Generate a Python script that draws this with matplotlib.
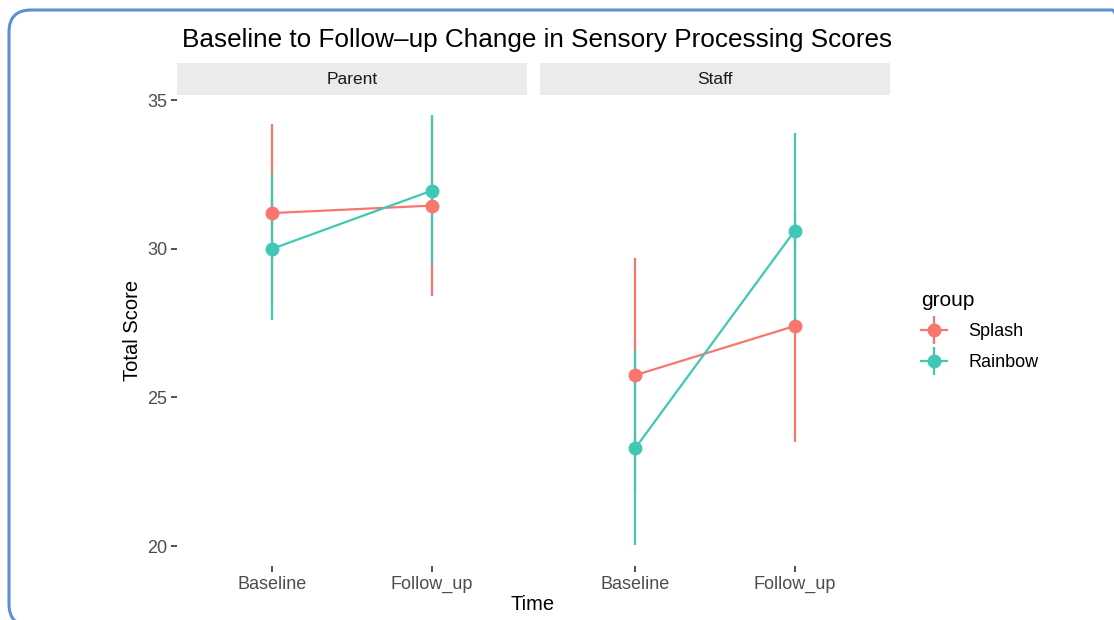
import matplotlib
matplotlib.use("Agg")
import matplotlib.pyplot as plt
from matplotlib.lines import Line2D
from matplotlib.patches import FancyBboxPatch
from matplotlib.transforms import IdentityTransform
from matplotlib.legend_handler import HandlerTuple

plt.rcParams['font.family'] = ['Liberation Sans', 'DejaVu Sans']

W, H = 1114, 620

times = ["Baseline", "Follow_up"]
panels = ["Parent", "Staff"]
groups = ["Splash", "Rainbow"]
colors = {"Splash": "#F8766D", "Rainbow": "#40C8B4"}

# mean and interval per panel / group, ordered Baseline, Follow_up
means = {
    ("Parent", "Splash"): [31.2, 31.45],
    ("Parent", "Rainbow"): [30.0, 31.95],
    ("Staff", "Splash"): [25.75, 27.4],
    ("Staff", "Rainbow"): [23.3, 30.6],
}
lower = {
    ("Parent", "Splash"): [28.2, 28.4],
    ("Parent", "Rainbow"): [27.6, 29.5],
    ("Staff", "Splash"): [21.8, 23.5],
    ("Staff", "Rainbow"): [20.05, 27.3],
}
upper = {
    ("Parent", "Splash"): [34.2, 34.4],
    ("Parent", "Rainbow"): [32.5, 34.5],
    ("Staff", "Splash"): [29.7, 31.3],
    ("Staff", "Rainbow"): [26.6, 33.9],
}
yticks = [20, 25, 30, 35]

fig = plt.figure(figsize=(W / 100, H / 100), dpi=100)

def px_box(x0, y0, x1, y1):
    # pixel box (top-left origin) to figure fraction rect
    return [x0 / W, 1 - y1 / H, (x1 - x0) / W, (y1 - y0) / H]

panel_x = {"Parent": (177, 527), "Staff": (540, 890)}
for i, p in enumerate(panels):
    x0, x1 = panel_x[p]
    ax = fig.add_axes(px_box(x0, 95, x1, 566))
    for g in groups:
        xs = list(range(len(times)))
        ax.vlines(xs, lower[(p, g)], upper[(p, g)], color=colors[g], lw=1.6, zorder=2)
        ax.plot(xs, means[(p, g)], color=colors[g], lw=1.6, marker="o", markersize=10,
                markeredgewidth=0, zorder=3)
    ax.set_xlim(-0.6, 1.6)
    ax.set_ylim(19.33, 35.17)
    ax.set_xticks(range(len(times)))
    ax.set_xticklabels(times)
    ax.set_yticks(yticks)
    for s in ax.spines.values():
        s.set_visible(False)
    ax.tick_params(axis="both", length=4, width=1.2, color="#333333",
                   labelsize=13, labelcolor="#4D4D4D", pad=3)
    if i > 0:
        ax.tick_params(axis="y", left=False, labelleft=False)

    # facet strip
    sax = fig.add_axes(px_box(x0, 63, x1, 95))
    sax.set_xticks([])
    sax.set_yticks([])
    for s in sax.spines.values():
        s.set_visible(False)
    sax.set_facecolor("#EBEBEB")
    sax.text(0.5, 0.5, p, ha="center", va="center", fontsize=12.5,
             color="#1A1A1A", transform=sax.transAxes)

fig.text(537 / W, 1 - 40 / H, "Baseline to Follow\u2013up Change in Sensory Processing Scores",
         ha="center", va="center", fontsize=18.8)
fig.text(132 / W, 1 - 330 / H, "Total Score", rotation=90, ha="center",
         va="center", fontsize=14.5)
fig.text(533 / W, 1 - 604 / H, "Time", ha="center", va="center", fontsize=14.5)

handles = []
for g in groups:
    h1 = Line2D([], [], color=colors[g], lw=1.6, marker="o", markersize=10,
                markeredgewidth=0)
    h2 = Line2D([], [], color=colors[g], lw=0, marker="|", markersize=20,
                markeredgewidth=1.6)
    handles.append((h1, h2))
leg = fig.legend(handles, groups, title="group", loc="center left",
                 bbox_to_anchor=(905 / W, 1 - 331 / H), frameon=False,
                 fontsize=13, title_fontsize=15, handlelength=1.4,
                 handletextpad=1.2, labelspacing=0.75, alignment="left",
                 handler_map={tuple: HandlerTuple(ndivide=1)})

# rounded outer frame
frame = FancyBboxPatch((9, -6), 1125, 616, boxstyle="round,pad=0,rounding_size=22",
                       transform=IdentityTransform(), fill=False,
                       edgecolor="#5E8FD2", lw=2.2, zorder=10)
fig.add_artist(frame)

fig.savefig("out.png", dpi=100, facecolor="white")
